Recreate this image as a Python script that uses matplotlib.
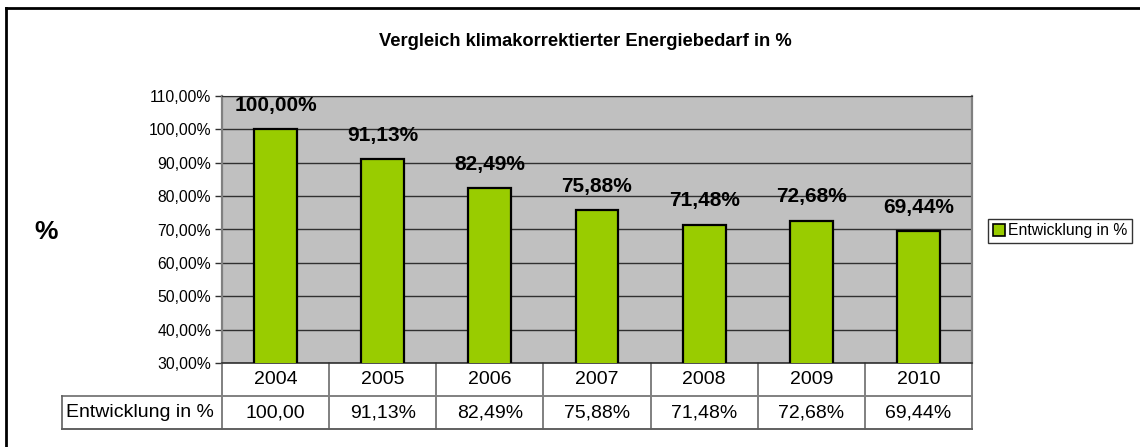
import matplotlib.pyplot as plt
import matplotlib.transforms as mtransforms
from matplotlib.lines import Line2D
from matplotlib.patches import Patch

plt.rcParams['font.family'] = ['Liberation Sans', 'DejaVu Sans']

years = ["2004", "2005", "2006", "2007", "2008", "2009", "2010"]
values = [100.00, 91.13, 82.49, 75.88, 71.48, 72.68, 69.44]
table_labels = ["100,00", "91,13%", "82,49%", "75,88%", "71,48%", "72,68%", "69,44%"]
series_name = "Entwicklung in %"
title = "Vergleich klimakorrektierter Energiebedarf in %"

green = "#99cc00"
plot_bg = "#c0c0c0"
gray = "#808080"

W, H = 1140, 447
fig = plt.figure(figsize=(W / 100, H / 100), dpi=100)

# plot area in pixels: left 222, top 96, right 972, bottom 363
ax = fig.add_axes([222 / W, 1 - 363 / H, 750 / W, 267 / H])
ax.set_facecolor(plot_bg)

x = list(range(len(years)))
ax.bar(x, values, width=0.4, bottom=0, color=green, edgecolor="black",
       linewidth=1.6, zorder=3)
ax.set_xlim(-0.5, len(years) - 0.5)
ax.set_ylim(30, 110)
ax.set_yticks(range(30, 111, 10))
ax.set_yticklabels([f"{v},00%" for v in range(30, 111, 10)], fontsize=11.3)
ax.set_xticks([])
ax.yaxis.grid(True, color="#303030", linewidth=1.0, zorder=1)
ax.set_axisbelow(True)
ax.tick_params(axis="y", length=5, width=1, color="#303030", pad=3)
for side in ["left", "right"]:
    ax.spines[side].set_color(gray)
    ax.spines[side].set_linewidth(1.6)
ax.spines["top"].set_color("#303030")
ax.spines["bottom"].set_color("#303030")
ax.spines["bottom"].set_linewidth(1.2)

# data labels above the bars
for xi, v in zip(x, values):
    lab = f"{v:.2f}%".replace(".", ",")
    ax.annotate(lab, (xi, v), xytext=(0, 17), textcoords="offset points",
                ha="center", va="center", fontsize=15, fontweight="bold",
                annotation_clip=False, zorder=4)

# data table below the axis
row_h = 33 / 267
label_left = (62 - 222) / 750
trans = mtransforms.blended_transform_factory(ax.transData, ax.transAxes)
for k in range(len(years) + 1):
    ax.add_line(Line2D([k - 0.5, k - 0.5], [0, -2 * row_h], transform=trans,
                       color=gray, linewidth=1.4, clip_on=False))
for yy in [-row_h, -2 * row_h]:
    ax.add_line(Line2D([label_left, 1], [yy, yy], transform=ax.transAxes,
                       color=gray if yy == -row_h else "#606060",
                       linewidth=1.4, clip_on=False))
ax.add_line(Line2D([label_left, label_left], [-row_h, -2 * row_h],
                   transform=ax.transAxes, color="#606060", linewidth=1.2,
                   clip_on=False))
for xi, yr, tl in zip(x, years, table_labels):
    ax.text(xi, -row_h / 2, yr, transform=trans, ha="center", va="center",
            fontsize=14)
    ax.text(xi, -1.5 * row_h, tl, transform=trans, ha="center", va="center",
            fontsize=14)
ax.text(label_left + 0.006, -1.5 * row_h, series_name, transform=ax.transAxes,
        ha="left", va="center", fontsize=14)

# title and axis label
fig.text(585 / W, 1 - 41 / H, title, ha="center", va="center",
         fontsize=13.2, fontweight="bold")
fig.text(46 / W, 1 - 232 / H, "%", ha="center", va="center",
         fontsize=19, fontweight="bold")

# legend
handle = Patch(facecolor=green, edgecolor="black", linewidth=1.2)
leg = fig.legend([handle], [series_name], loc="center left",
                 bbox_to_anchor=(988 / W, 1 - 231 / H), fontsize=11.3,
                 frameon=True, fancybox=False, handlelength=0.8,
                 handleheight=0.8, handletextpad=0.2, borderpad=0.3,
                 borderaxespad=0)
leg.get_frame().set_edgecolor("black")
leg.get_frame().set_linewidth(1.0)

# outer chart frame (top and left edges visible)
fig.add_artist(Line2D([6 / W, 1], [1 - 8 / H, 1 - 8 / H], transform=fig.transFigure,
                      color="black", linewidth=2))
fig.add_artist(Line2D([6 / W, 6 / W], [1 - 8 / H, 0], transform=fig.transFigure,
                      color="black", linewidth=2))

fig.savefig("out.png", dpi=100)
